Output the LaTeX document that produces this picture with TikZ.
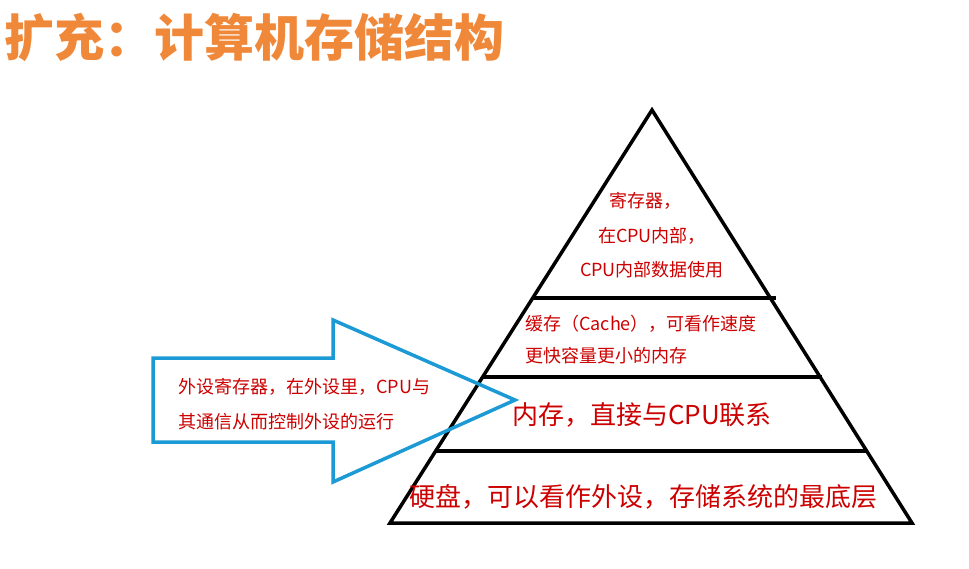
\documentclass[tikz,border=0pt]{standalone}
\usepackage{fontspec}
\setmainfont{Noto Sans CJK SC}
\begin{document}
\begin{tikzpicture}[x=1pt,y=-1pt,
  red/.style={text=red!80!black, inner sep=0pt, font=\fontsize{18}{20}\selectfont},
  big/.style={text=red!80!black, inner sep=0pt, font=\fontsize{26}{28}\selectfont},
  tri/.style={line width=3.5pt, line join=miter}]
\useasboundingbox (0,0) rectangle (969,569);
\definecolor{org}{HTML}{F0883A}
\definecolor{blu}{HTML}{1B9AD6}
\node[anchor=west, inner sep=0pt, text=org, font=\fontsize{50}{54}\selectfont\bfseries] (title) at (4,38) {扩充：计算机存储结构};
\coordinate (A) at (652,110);
\coordinate (BL) at (390,523);
\coordinate (BR) at (912,523);
\draw[tri] (A) -- (BL) -- (BR) -- cycle;
\coordinate (l1a) at (533,298); \coordinate (l1b) at (776,298);
\coordinate (l2a) at (483,377); \coordinate (l2b) at (822,377);
\coordinate (l3a) at (435,451); \coordinate (l3b) at (866,451);
\draw[tri] (l1a) -- (l1b);
\draw[tri] (l2a) -- (l2b);
\draw[tri] (l3a) -- (l3b);
\node[red] (t1) at (645,201) {寄存器，};
\node[red] (t2) at (652,236) {在CPU内部，};
\node[red] (t3) at (652,270) {CPU内部数据使用};
\node[red, anchor=west] (c1) at (525,324) {缓存（Cache），可看作速度};
\node[red, anchor=west] (c2) at (525,356) {更快容量更小的内存};
\node[big] (m) at (642,415) {内存，直接与CPU联系};
\node[big] (h) at (643,497) {硬盘，可以看作外设，存储系统的最底层};
\draw[blu, line width=3.5pt, line join=miter] (153,358) -- (333,358) -- (333,320) -- (515,400) -- (333,482) -- (333,442) -- (153,442) -- cycle;
\node[red, anchor=west] (a1) at (178,387) {外设寄存器，在外设里，CPU与};
\node[red, anchor=west] (a2) at (178,422) {其通信从而控制外设的运行};
\end{tikzpicture}
\end{document}
